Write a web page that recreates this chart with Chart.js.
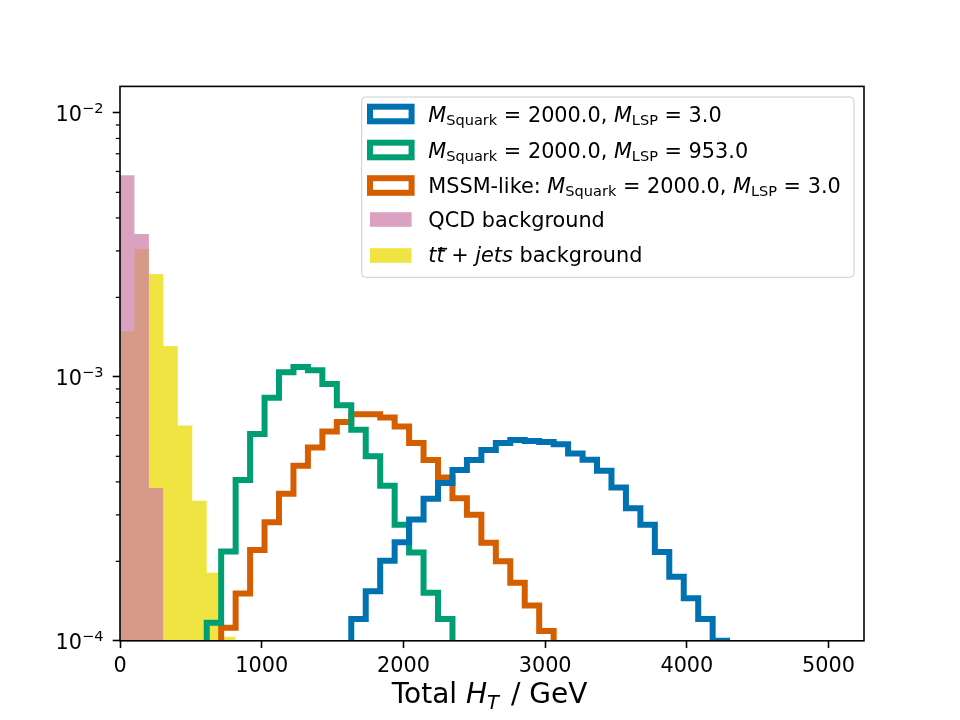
<!DOCTYPE html>
<html>
<head>
<meta charset="utf-8">
<script src="https://cdn.jsdelivr.net/npm/chart.js@4.4.0/dist/chart.umd.min.js"></script>
<style>
  html, body { margin: 0; padding: 0; background: #fff; }
  #wrap { width: 960px; height: 720px; }
</style>
</head>
<body>
<div id="wrap"><canvas id="htChart" width="960" height="720"></canvas></div>
<script>
// histogram bins are 102 GeV wide, each series starts at a given bin index
const binWidth = 102;

const qcdStart = 0;
const qcdValues = [5.8e-3, 3.48e-3, 3.79e-4];

const ttbarStart = 0;
const ttbarValues = [1.49e-3, 3.05e-3, 2.45e-3, 1.31e-3, 6.54e-4, 3.39e-4, 1.81e-4, 1.035e-4];

const lsp953Start = 6;
const lsp953Values = [1.17e-4, 2.18e-4, 4.07e-4, 6.07e-4, 8.33e-4, 1.04e-3, 1.09e-3, 1.06e-3,
  9.4e-4, 7.8e-4, 6.3e-4, 5.0e-4, 3.87e-4, 2.75e-4, 2.16e-4, 1.52e-4, 1.21e-4];

const mssmStart = 7;
const mssmValues = [1.12e-4, 1.51e-4, 2.21e-4, 2.81e-4, 3.61e-4, 4.60e-4, 5.40e-4, 6.21e-4,
  6.75e-4, 7.22e-4, 7.22e-4, 7.01e-4, 6.49e-4, 5.62e-4, 4.84e-4, 4.16e-4, 3.47e-4, 3.00e-4,
  2.35e-4, 2.00e-4, 1.66e-4, 1.36e-4, 1.09e-4];

const lsp3Start = 16;
const lsp3Values = [1.21e-4, 1.54e-4, 2.01e-4, 2.36e-4, 2.88e-4, 3.45e-4, 3.96e-4, 4.44e-4,
  4.84e-4, 5.28e-4, 5.62e-4, 5.76e-4, 5.72e-4, 5.66e-4, 5.56e-4, 5.12e-4, 4.85e-4, 4.41e-4,
  3.81e-4, 3.18e-4, 2.75e-4, 2.17e-4, 1.75e-4, 1.45e-4, 1.21e-4, 1.0e-4];

const xTicks = [0, 1000, 2000, 3000, 4000, 5000];
const yTicks = [1e-4, 1e-3, 1e-2];
const yTickExp = ['\u22124', '\u22123', '\u22122'];

const FONT = '"DejaVu Sans", "Liberation Sans", sans-serif';
const FS = 20.8;

// step outline points for a histogram, dropping to below the axis at both ends
function stepPoints(start, values) {
  const below = 1e-6;
  const pts = [{ x: start * binWidth, y: below }];
  values.forEach((v, i) => pts.push({ x: (start + i) * binWidth, y: v }));
  const end = (start + values.length) * binWidth;
  pts.push({ x: end, y: values[values.length - 1] });
  pts.push({ x: end, y: below });
  return pts;
}

function runFont(r, size) {
  const s = (r.sub || r.sup) ? size * 0.7 : size;
  return (r.it ? 'italic ' : '') + s + 'px ' + FONT;
}
function runsWidth(ctx, runs, size) {
  let w = 0;
  runs.forEach(r => { ctx.font = runFont(r, size); w += ctx.measureText(r.t).width + (r.gap || 0); });
  return w;
}
function drawRuns(ctx, x, y, runs, size, subDrop) {
  const drop = subDrop || 0.16;
  runs.forEach(r => {
    ctx.font = runFont(r, size);
    const dy = r.sub ? size * drop : r.sup ? -size * 0.385 : 0;
    ctx.fillText(r.t, x, y + dy);
    const w = ctx.measureText(r.t).width;
    if (r.bar) {
      ctx.save();
      ctx.strokeStyle = '#000';
      ctx.lineWidth = 1.7;
      ctx.beginPath();
      ctx.moveTo(x + 1.5, y - 13);
      ctx.lineTo(x + w + 2.5, y - 13);
      ctx.stroke();
      ctx.restore();
    }
    x += w + (r.gap || 0);
  });
  return x;
}

const legendRows = [
  { kind: 'step', color: '#0072B2', runs: [{ t: 'M', it: true }, { t: 'Squark', sub: true }, { t: ' = 2000.0, ' }, { t: 'M', it: true }, { t: 'LSP', sub: true }, { t: ' = 3.0' }] },
  { kind: 'step', color: '#009E73', runs: [{ t: 'M', it: true }, { t: 'Squark', sub: true }, { t: ' = 2000.0, ' }, { t: 'M', it: true }, { t: 'LSP', sub: true }, { t: ' = 953.0' }] },
  { kind: 'step', color: '#D55E00', runs: [{ t: 'MSSM-like: ' }, { t: 'M', it: true }, { t: 'Squark', sub: true }, { t: ' = 2000.0, ' }, { t: 'M', it: true }, { t: 'LSP', sub: true }, { t: ' = 3.0' }] },
  { kind: 'fill', color: 'rgba(204,121,167,0.7)', runs: [{ t: 'QCD background' }] },
  { kind: 'fill', color: '#F0E442', runs: [{ t: 't', it: true }, { t: 't', it: true, bar: true }, { t: ' + ' }, { t: 'jets', it: true }, { t: ' background' }] }
];
const legendCenters = [114, 150, 185.5, 219.5, 255.5];
const legendBaseShift = [7.6, 7.6, 7.6, 7.2, 6.2];

const decorPlugin = {
  id: 'decor',
  afterDatasetsDraw(chart) {
    const ctx = chart.ctx;
    const a = chart.chartArea;
    const ys = chart.scales.y;
    ctx.save();
    // minor log ticks
    ctx.strokeStyle = '#000';
    ctx.lineWidth = 1.25;
    yTicks.forEach(d => {
      for (let m = 2; m <= 9; m++) {
        const v = m * d;
        if (v > ys.max) continue;
        const py = ys.getPixelForValue(v);
        ctx.beginPath();
        ctx.moveTo(a.left - 4.2, py);
        ctx.lineTo(a.left, py);
        ctx.stroke();
      }
    });
    // frame
    ctx.lineWidth = 1.6;
    ctx.strokeRect(a.left, a.top, a.right - a.left, a.bottom - a.top);

    // y tick labels 10^n
    ctx.fillStyle = '#000';
    ctx.textBaseline = 'alphabetic';
    ctx.textAlign = 'left';
    yTicks.forEach((v, i) => {
      const py = ys.getPixelForValue(v);
      const runs = [{ t: '10' }, { t: yTickExp[i], sup: true }];
      const w = runsWidth(ctx, runs, FS);
      drawRuns(ctx, a.left - 16.5 - w, py + 8.2, runs, FS);
    });

    // x axis title
    const tRuns = [{ t: 'Total ' }, { t: 'H', it: true }, { t: 'T', it: true, sub: true, gap: 3 }, { t: ' / GeV' }];
    const tSize = 28;
    const tw = runsWidth(ctx, tRuns, tSize);
    drawRuns(ctx, 489.5 - tw / 2, 703.3, tRuns, tSize, 0.22);

    // legend
    const lx = 361.7, ly = 97, lw = 854 - 361.7, lh = 277.3 - 97;
    ctx.beginPath();
    ctx.roundRect(lx, ly, lw, lh, 4);
    ctx.fillStyle = 'rgba(255,255,255,0.8)';
    ctx.fill();
    ctx.strokeStyle = '#cccccc';
    ctx.lineWidth = 1;
    ctx.stroke();
    legendRows.forEach((row, i) => {
      const c = legendCenters[i];
      if (row.kind === 'step') {
        ctx.strokeStyle = row.color;
        ctx.lineWidth = 6;
        ctx.strokeRect(370, c - 7.3, 41.6, 14.6);
      } else {
        ctx.fillStyle = row.color;
        ctx.fillRect(370, c - 7.3, 41.6, 14.6);
      }
      ctx.fillStyle = '#000';
      drawRuns(ctx, 428.3, c + legendBaseShift[i], row.runs, FS);
    });
    ctx.restore();
  }
};

function stepSet(label, start, values, color) {
  return {
    label: label, data: stepPoints(start, values),
    borderColor: color, borderWidth: 6, backgroundColor: 'transparent',
    fill: false, stepped: true, pointRadius: 0, borderJoinStyle: 'miter', clip: 0
  };
}
function fillSet(label, start, values, color) {
  return {
    label: label, data: stepPoints(start, values),
    borderColor: 'transparent', borderWidth: 0, backgroundColor: color,
    fill: 'start', stepped: true, pointRadius: 0, clip: 0
  };
}

new Chart(document.getElementById('htChart'), {
  type: 'line',
  data: {
    datasets: [
      stepSet('MSquark = 2000.0, MLSP = 3.0', lsp3Start, lsp3Values, '#0072B2'),
      stepSet('MSquark = 2000.0, MLSP = 953.0', lsp953Start, lsp953Values, '#009E73'),
      stepSet('MSSM-like: MSquark = 2000.0, MLSP = 3.0', mssmStart, mssmValues, '#D55E00'),
      fillSet('QCD background', qcdStart, qcdValues, 'rgba(204,121,167,0.7)'),
      fillSet('tt + jets background', ttbarStart, ttbarValues, '#F0E442')
    ]
  },
  options: {
    responsive: false,
    animation: false,
    devicePixelRatio: 1,
    layout: { padding: { left: 0, right: 96, top: 86.4, bottom: 0 } },
    plugins: { legend: { display: false }, tooltip: { enabled: false } },
    scales: {
      x: {
        type: 'linear', min: 0, max: 5250,
        afterBuildTicks: s => { s.ticks = xTicks.map(v => ({ value: v })); },
        afterFit: s => { s.height = 79.2; },
        ticks: { color: '#000', font: { family: FONT, size: FS }, padding: 6, maxRotation: 0, autoSkip: false,
          callback: v => String(v) },
        grid: { drawOnChartArea: false, tickLength: 7.3, tickWidth: 1.6, tickColor: '#000' },
        border: { display: false }
      },
      y: {
        type: 'logarithmic', min: 1e-4, max: 1.26e-2,
        afterBuildTicks: s => { s.ticks = yTicks.map(v => ({ value: v })); },
        afterFit: s => { s.width = 120; },
        ticks: { display: false },
        grid: { drawOnChartArea: false, tickLength: 7.3, tickWidth: 1.6, tickColor: '#000' },
        border: { display: false }
      }
    }
  },
  plugins: [decorPlugin]
});
</script>
</body>
</html>
